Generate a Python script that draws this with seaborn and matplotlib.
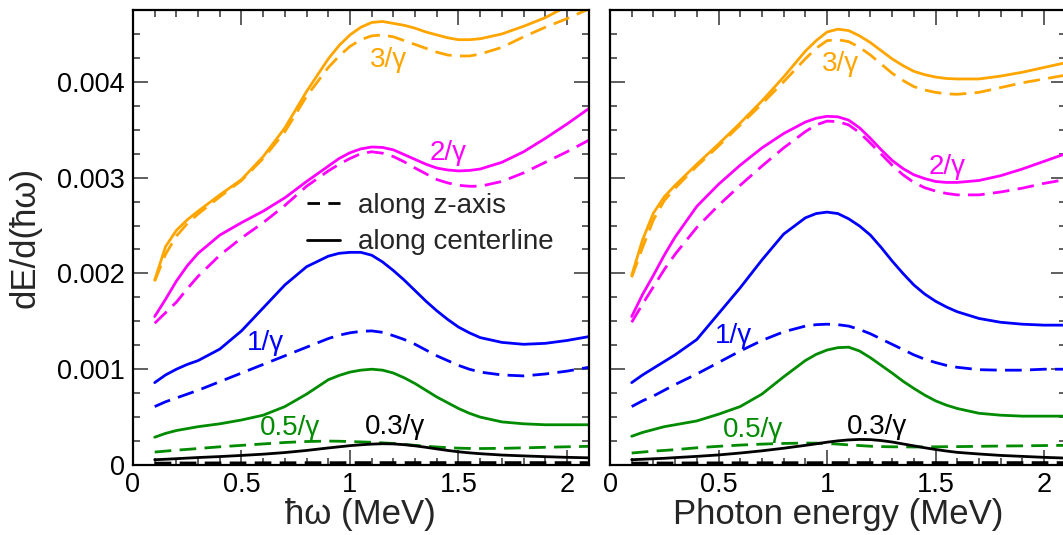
import matplotlib
matplotlib.use("Agg")
import matplotlib.pyplot as plt
import seaborn as sns
import pandas as pd
from matplotlib.lines import Line2D
from matplotlib.ticker import FixedLocator, FixedFormatter, MultipleLocator

sns.set_theme(style="ticks")
plt.rcParams["font.family"] = ["Liberation Sans", "DejaVu Sans"]

# ---------------- data (values in units of 1e-3) ----------------
SCALE = 1e-3
energy = [0.1, 0.15, 0.2, 0.25, 0.3, 0.4, 0.5, 0.6, 0.7, 0.8, 0.9, 0.95,
          1.0, 1.05, 1.1, 1.15, 1.2, 1.25, 1.3, 1.35, 1.4, 1.45, 1.5, 1.55,
          1.6, 1.7, 1.8, 1.9, 2.0, 2.1]

beams = ["0.3/γ", "0.5/γ", "1/γ", "2/γ", "3/γ"]
beam_colors = ["#000000", "#008b00", "#0000ff", "#ff00ff", "#ffa500"]
paths = ["along z-axis", "along centerline"]

# left panel
L_cent_3 = [1.93, 2.28, 2.45, 2.56, 2.65, 2.82, 2.98, 3.22, 3.52, 3.90, 4.24, 4.38,
            4.49, 4.57, 4.62, 4.63, 4.61, 4.59, 4.56, 4.52, 4.49, 4.46, 4.44, 4.44,
            4.45, 4.50, 4.58, 4.67, 4.79, 4.90]
L_zax_3 = [1.92, 2.20, 2.39, 2.52, 2.62, 2.80, 2.97, 3.20, 3.48, 3.85, 4.15, 4.27,
           4.37, 4.44, 4.48, 4.49, 4.47, 4.43, 4.39, 4.35, 4.31, 4.28, 4.27, 4.27,
           4.29, 4.36, 4.47, 4.57, 4.66, 4.76]
L_cent_2 = [1.55, 1.73, 1.92, 2.08, 2.21, 2.40, 2.53, 2.65, 2.79, 2.96, 3.12, 3.20,
            3.26, 3.30, 3.32, 3.315, 3.29, 3.24, 3.19, 3.14, 3.10, 3.08, 3.07, 3.075,
            3.09, 3.16, 3.27, 3.41, 3.56, 3.72]
L_zax_2 = [1.48, 1.59, 1.70, 1.84, 1.97, 2.19, 2.37, 2.53, 2.71, 2.91, 3.07, 3.14,
           3.20, 3.25, 3.27, 3.255, 3.22, 3.165, 3.10, 3.04, 2.98, 2.945, 2.92, 2.91,
           2.91, 2.96, 3.05, 3.16, 3.27, 3.39]
L_cent_1 = [0.86, 0.94, 1.00, 1.05, 1.09, 1.21, 1.40, 1.64, 1.88, 2.07, 2.18, 2.21,
            2.22, 2.22, 2.19, 2.12, 2.03, 1.93, 1.82, 1.71, 1.61, 1.52, 1.44, 1.38,
            1.33, 1.28, 1.26, 1.27, 1.30, 1.34]
L_zax_1 = [0.61, 0.66, 0.70, 0.74, 0.78, 0.87, 0.96, 1.05, 1.14, 1.23, 1.32, 1.355,
           1.38, 1.395, 1.40, 1.385, 1.35, 1.31, 1.26, 1.20, 1.14, 1.09, 1.04, 1.00,
           0.97, 0.94, 0.93, 0.95, 0.98, 1.02]
L_cent_05 = [0.29, 0.33, 0.36, 0.38, 0.40, 0.43, 0.47, 0.52, 0.61, 0.74, 0.89, 0.935,
             0.97, 0.99, 1.00, 0.99, 0.96, 0.91, 0.85, 0.78, 0.71, 0.65, 0.59, 0.54,
             0.50, 0.45, 0.43, 0.42, 0.42, 0.42]
L_zax_05 = [0.135, 0.145, 0.155, 0.163, 0.172, 0.19, 0.205, 0.22, 0.235, 0.245, 0.25, 0.248,
            0.245, 0.241, 0.237, 0.231, 0.225, 0.215, 0.205, 0.196, 0.188, 0.181, 0.176, 0.173,
            0.172, 0.174, 0.179, 0.185, 0.19, 0.195]
L_cent_03 = [0.055, 0.06, 0.066, 0.072, 0.078, 0.088, 0.10, 0.113, 0.13, 0.152, 0.178, 0.19,
             0.202, 0.211, 0.218, 0.222, 0.22, 0.212, 0.20, 0.185, 0.168, 0.152, 0.138, 0.127,
             0.118, 0.104, 0.095, 0.087, 0.08, 0.075]
L_zax_03 = [0.020, 0.020, 0.021, 0.021, 0.021, 0.022, 0.022, 0.023, 0.023, 0.024, 0.024, 0.024,
            0.025, 0.025, 0.025, 0.025, 0.025, 0.025, 0.025, 0.025, 0.025, 0.025, 0.025, 0.025,
            0.025, 0.025, 0.025, 0.025, 0.025, 0.025]

# right panel
R_cent_3 = [1.98, 2.35, 2.63, 2.80, 2.92, 3.14, 3.35, 3.57, 3.80, 4.05, 4.32, 4.43,
            4.52, 4.55, 4.535, 4.48, 4.41, 4.325, 4.24, 4.17, 4.11, 4.075, 4.05, 4.035,
            4.03, 4.03, 4.06, 4.10, 4.15, 4.20]
R_zax_3 = [1.96, 2.27, 2.56, 2.76, 2.89, 3.12, 3.33, 3.55, 3.77, 4.00, 4.24, 4.35,
           4.43, 4.44, 4.42, 4.36, 4.28, 4.185, 4.09, 4.015, 3.95, 3.915, 3.89, 3.875,
           3.87, 3.89, 3.94, 3.99, 4.03, 4.07]
R_cent_2 = [1.55, 1.78, 1.98, 2.19, 2.38, 2.70, 2.93, 3.13, 3.31, 3.46, 3.58, 3.62,
            3.64, 3.635, 3.60, 3.52, 3.41, 3.29, 3.18, 3.095, 3.03, 2.99, 2.96, 2.95,
            2.95, 2.97, 3.02, 3.09, 3.17, 3.25]
R_zax_2 = [1.49, 1.68, 1.86, 2.04, 2.20, 2.48, 2.71, 2.92, 3.12, 3.31, 3.48, 3.55,
           3.59, 3.585, 3.55, 3.47, 3.36, 3.245, 3.13, 3.03, 2.95, 2.895, 2.86, 2.835,
           2.82, 2.82, 2.85, 2.89, 2.94, 2.98]
R_cent_1 = [0.86, 0.94, 1.01, 1.08, 1.15, 1.31, 1.58, 1.85, 2.14, 2.41, 2.58, 2.625,
            2.64, 2.625, 2.57, 2.495, 2.40, 2.27, 2.13, 2.00, 1.88, 1.785, 1.71, 1.65,
            1.60, 1.53, 1.49, 1.47, 1.46, 1.46]
R_zax_1 = [0.61, 0.67, 0.72, 0.78, 0.84, 0.95, 1.07, 1.19, 1.30, 1.39, 1.45, 1.465,
           1.47, 1.465, 1.45, 1.415, 1.37, 1.315, 1.26, 1.205, 1.15, 1.105, 1.07, 1.04,
           1.02, 0.995, 0.99, 0.99, 1.00, 1.00]
R_cent_05 = [0.30, 0.34, 0.37, 0.40, 0.42, 0.46, 0.53, 0.61, 0.74, 0.92, 1.09, 1.155,
             1.20, 1.225, 1.23, 1.19, 1.12, 1.04, 0.96, 0.875, 0.80, 0.73, 0.67, 0.625,
             0.59, 0.54, 0.52, 0.51, 0.51, 0.51]
R_zax_05 = [0.125, 0.135, 0.145, 0.152, 0.16, 0.18, 0.195, 0.208, 0.218, 0.225, 0.229, 0.228,
            0.225, 0.218, 0.21, 0.203, 0.196, 0.192, 0.19, 0.189, 0.188, 0.189, 0.19, 0.191,
            0.192, 0.195, 0.198, 0.20, 0.203, 0.205]
R_cent_03 = [0.055, 0.06, 0.065, 0.07, 0.077, 0.09, 0.105, 0.125, 0.148, 0.175, 0.205, 0.221,
             0.238, 0.252, 0.262, 0.267, 0.265, 0.255, 0.24, 0.22, 0.20, 0.18, 0.162, 0.146,
             0.132, 0.115, 0.10, 0.09, 0.08, 0.072]
R_zax_03 = [0.020, 0.020, 0.021, 0.021, 0.021, 0.022, 0.022, 0.023, 0.023, 0.024, 0.024, 0.024,
            0.025, 0.025, 0.025, 0.025, 0.025, 0.025, 0.025, 0.025, 0.025, 0.025, 0.025, 0.025,
            0.025, 0.025, 0.025, 0.025, 0.025, 0.025]

xtick_values = [0, 0.5, 1.0, 1.5, 2.0]
xtick_labels = ["0", "0.5", "1", "1.5", "2"]
ytick_values = [0, 0.001, 0.002, 0.003, 0.004]
ytick_labels = ["0", "0.001", "0.002", "0.003", "0.004"]


def build(series):
    rows = []
    for (beam, path), vals in series.items():
        for e, v in zip(energy, vals):
            rows.append((e, v * SCALE, beam, path))
    return pd.DataFrame(rows, columns=["energy", "dE", "beam", "path"])


left_df = build({
    ("3/γ", "along centerline"): L_cent_3, ("3/γ", "along z-axis"): L_zax_3,
    ("2/γ", "along centerline"): L_cent_2, ("2/γ", "along z-axis"): L_zax_2,
    ("1/γ", "along centerline"): L_cent_1, ("1/γ", "along z-axis"): L_zax_1,
    ("0.5/γ", "along centerline"): L_cent_05, ("0.5/γ", "along z-axis"): L_zax_05,
    ("0.3/γ", "along centerline"): L_cent_03, ("0.3/γ", "along z-axis"): L_zax_03,
})
right_df = build({
    ("3/γ", "along centerline"): R_cent_3, ("3/γ", "along z-axis"): R_zax_3,
    ("2/γ", "along centerline"): R_cent_2, ("2/γ", "along z-axis"): R_zax_2,
    ("1/γ", "along centerline"): R_cent_1, ("1/γ", "along z-axis"): R_zax_1,
    ("0.5/γ", "along centerline"): R_cent_05, ("0.5/γ", "along z-axis"): R_zax_05,
    ("0.3/γ", "along centerline"): R_cent_03, ("0.3/γ", "along z-axis"): R_zax_03,
})

palette = dict(zip(beams, beam_colors))
dash_map = {"along centerline": "", "along z-axis": (6, 3)}

# ---------------- figure ----------------
W, H = 1063, 535
fig = plt.figure(figsize=(W / 100, H / 100), dpi=100)
fig.patch.set_facecolor("white")
ax_w = 455.7 / W
ax_h = 455 / H
axL = fig.add_axes([133 / W, 70 / H, ax_w, ax_h])
axR = fig.add_axes([610 / W, 70 / H, ax_w, ax_h])

for ax, df in ((axL, left_df), (axR, right_df)):
    sns.lineplot(data=df, x="energy", y="dE", hue="beam", style="path",
                 palette=palette, dashes=dash_map, linewidth=2,
                 estimator=None, errorbar=None, legend=False, ax=ax)
    for ln in ax.get_lines():
        ln.set_solid_joinstyle("round")
        ln.set_dash_joinstyle("round")
    ax.set_xlim(0, 2.1)
    ax.set_ylim(0, 0.00475)
    ax.set_facecolor("white")
    ax.xaxis.set_major_locator(FixedLocator(xtick_values))
    ax.xaxis.set_major_formatter(FixedFormatter(xtick_labels))
    ax.xaxis.set_minor_locator(MultipleLocator(0.1))
    ax.yaxis.set_major_locator(FixedLocator(ytick_values))
    ax.yaxis.set_minor_locator(MultipleLocator(0.00025))
    for s in ax.spines.values():
        s.set_visible(True)
        s.set_linewidth(1.6)
        s.set_color("black")
    ax.tick_params(which="both", direction="in", top=True, right=True,
                   color="#333333", labelsize=19.5, labelcolor="black")
    ax.tick_params(which="major", length=10.8, width=1.1)
    ax.tick_params(which="minor", length=5.2, width=1.1)
    ax.tick_params(axis="x", pad=5)
    ax.tick_params(axis="y", pad=6)
    ax.set_ylabel("")

axL.yaxis.set_major_formatter(FixedFormatter(ytick_labels))
axR.tick_params(axis="y", labelleft=False)

axL.set_xlabel("ħω (MeV)", fontsize=25)
axR.set_xlabel("Photon energy (MeV)", fontsize=25)
axL.xaxis.set_label_coords(0.5, -0.072)
axR.xaxis.set_label_coords(0.5, -0.072)
axL.set_ylabel("dE/d(ħω)", fontsize=25)
axL.yaxis.set_label_coords(-0.2, 0.5)

# ---------------- curve labels ----------------
txt = dict(fontsize=20, ha="left", va="baseline")
axL.text(1.092, 0.00416, "3/γ", color=palette["3/γ"], **txt)
axL.text(1.369, 0.00318, "2/γ", color=palette["2/γ"], **txt)
axL.text(0.524, 0.00120, "1/γ", color=palette["1/γ"], **txt)
axL.text(0.585, 0.00031, "0.5/γ", color=palette["0.5/γ"], **txt)
axL.text(1.069, 0.000327, "0.3/γ", color=palette["0.3/γ"], **txt)

axR.text(0.976, 0.00411, "3/γ", color=palette["3/γ"], **txt)
axR.text(1.467, 0.00304, "2/γ", color=palette["2/γ"], **txt)
axR.text(0.484, 0.00127, "1/γ", color=palette["1/γ"], **txt)
axR.text(0.522, 0.00029, "0.5/γ", color=palette["0.5/γ"], **txt)
axR.text(1.091, 0.000327, "0.3/γ", color=palette["0.3/γ"], **txt)

# ---------------- legend ----------------
handles = [Line2D([], [], color="black", lw=2, dashes=(4.5, 3)),
           Line2D([], [], color="black", lw=2)]
axL.legend(handles, paths, loc="upper left",
           bbox_to_anchor=((307 - 133) / 455.7, (465 - 193) / 455),
           frameon=False, fontsize=20, handlelength=1.2, handletextpad=0.65,
           labelspacing=0.37, borderpad=0, borderaxespad=0)

fig.savefig("out.png", dpi=100, facecolor="white")
